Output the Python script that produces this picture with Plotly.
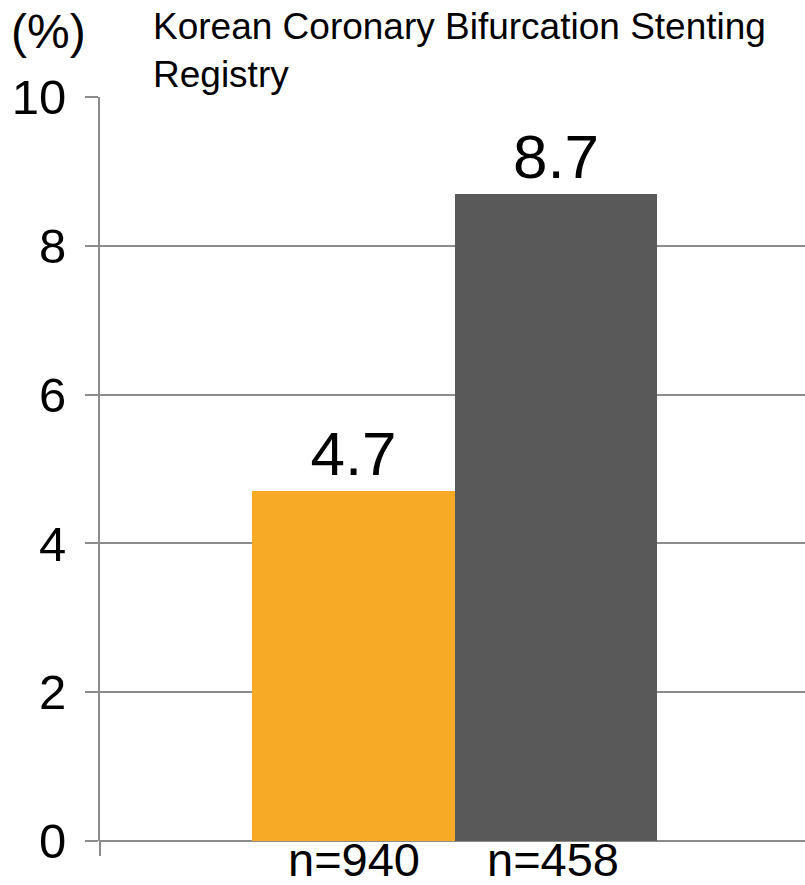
import plotly.graph_objects as go

# Registry groups and event rates (%)
groups = ["n=940", "n=458"]
rates = [4.7, 8.7]
bar_colors = ["#F7AA25", "#595959"]
y_ticks = [0, 2, 4, 6, 8, 10]

TITLE = "Korean Coronary Bifurcation Stenting<br>Registry"
FONT = "Liberation Sans, Arial, sans-serif"
GRID = "#8C8C8C"

fig = go.Figure(
    go.Bar(
        x=groups,
        y=rates,
        marker=dict(color=bar_colors, line=dict(width=0)),
        width=1.0,
        text=[f"{v:.1f}" for v in rates],
        textposition="outside",
        textfont=dict(size=62, color="black", family=FONT),
        cliponaxis=False,
        showlegend=False,
    )
)

fig.update_layout(
    width=805,
    height=885,
    margin=dict(l=100, r=0, t=97, b=44, autoexpand=False),
    paper_bgcolor="white",
    plot_bgcolor="white",
    font=dict(family=FONT, color="black"),
    bargap=0,
)

fig.update_xaxes(
    type="category",
    range=[-1.25, 2.23],
    showgrid=False,
    showline=False,
    zeroline=False,
    ticks="",
    showticklabels=False,
    automargin=False,
)

fig.update_yaxes(
    range=[0, 10],
    tickvals=y_ticks,
    showgrid=True,
    gridcolor=GRID,
    gridwidth=1.5,
    showline=True,
    linecolor=GRID,
    linewidth=2,
    zeroline=True,
    zerolinecolor=GRID,
    zerolinewidth=2,
    ticks="outside",
    ticklen=13,
    tickwidth=1.5,
    tickcolor=GRID,
    tickfont=dict(size=49, color="black"),
    ticklabelstandoff=9,
    automargin=False,
)

# Group labels under each bar
for g, dx in zip(groups, [1, -3]):
    fig.add_annotation(
        text=g, x=g, xref="x", yref="paper", y=0,
        xanchor="center", yanchor="top", xshift=dx, yshift=9,
        showarrow=False, borderpad=0,
        font=dict(size=47, color="black"),
    )

# Boundary tick below the category axis at its left end
fig.add_shape(
    type="line", xref="paper", yref="paper",
    x0=0, x1=0, y0=0, y1=-15 / 744,
    line=dict(color=GRID, width=2),
)

# Unit label and chart heading
fig.add_annotation(
    text="(%)", xref="paper", yref="paper",
    x=-100 / 705, y=1 + 97 / 744, xanchor="left", yanchor="top",
    xshift=9, yshift=-3, showarrow=False,
    font=dict(size=48, color="black"),
)
fig.add_annotation(
    text=TITLE, xref="paper", yref="paper",
    x=53 / 705, y=1 + 97 / 744, xanchor="left", yanchor="top",
    xshift=-2, yshift=-4, align="left", showarrow=False,
    font=dict(size=37, color="black"),
)

fig.write_html("out.html")
